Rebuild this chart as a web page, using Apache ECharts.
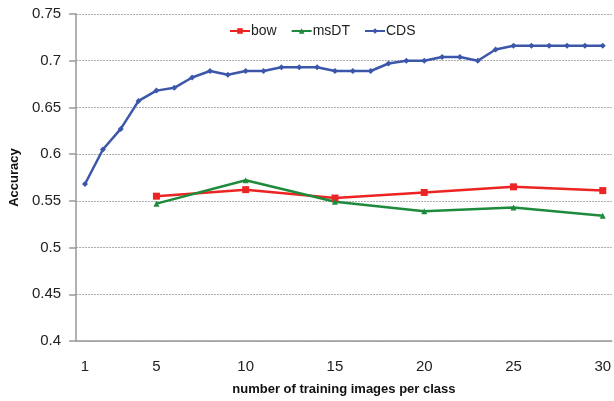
<!DOCTYPE html>
<html>
<head>
<meta charset="utf-8">
<script src="https://cdn.jsdelivr.net/npm/echarts@6/dist/echarts.min.js"></script>
<style>
html,body{margin:0;padding:0;background:#fff;}
#chart{width:614px;height:401px;}
</style>
</head>
<body>
<div id="chart"></div>
<script>
var categories = ['1','2','3','4','5','6','7','8','9','10','11','12','13','14','15','16','17','18','19','20','21','22','23','24','25','26','27','28','29','30'];
var bowValues = [null,null,null,null,0.555,null,null,null,null,0.562,null,null,null,null,0.553,null,null,null,null,0.559,null,null,null,null,0.565,null,null,null,null,0.561];
var msdtValues = [null,null,null,null,0.547,null,null,null,null,0.572,null,null,null,null,0.549,null,null,null,null,0.539,null,null,null,null,0.543,null,null,null,null,0.534];
var cdsValues = [0.568,0.605,0.627,0.657,0.668,0.671,0.682,0.689,0.685,0.689,0.689,0.693,0.693,0.693,0.689,0.689,0.689,0.697,0.700,0.700,0.704,0.704,0.700,0.712,0.716,0.716,0.716,0.716,0.716,0.716];
var yTicks = {min: 0.4, max: 0.75, step: 0.05};

var chart = echarts.init(document.getElementById('chart'), null, {renderer: 'canvas'});
var font = 'Liberation Sans, Arial, sans-serif';
chart.setOption({
  animation: false,
  backgroundColor: '#fff',
  textStyle: {fontFamily: font},
  legend: {
    top: 19,
    left: 224,
    itemGap: 14,
    itemWidth: 20,
    itemHeight: 7,
    textStyle: {fontSize: 14, color: '#222', fontFamily: font, padding: [0,0,0,-4]},
    data: ['bow','msDT','CDS']
  },
  grid: {left: 74, right: -2, top: 14, bottom: 58.5, containLabel: false},
  xAxis: {
    type: 'category',
    data: categories,
    boundaryGap: true,
    name: 'number of training images per class',
    nameLocation: 'middle',
    nameGap: 42,
    nameTextStyle: {fontSize: 13, color: '#111', fontWeight: 'bold', fontFamily: font},
    axisLine: {lineStyle: {color: '#999', width: 1.5}},
    axisTick: {show: false},
    axisLabel: {
      fontSize: 15, color: '#222', margin: 18,
      interval: function (i) { return i === 0 || (i + 1) % 5 === 0; }
    }
  },
  yAxis: {
    type: 'value',
    min: yTicks.min,
    max: yTicks.max,
    interval: yTicks.step,
    name: 'Accuracy',
    nameLocation: 'middle',
    nameGap: 55,
    nameRotate: 90,
    nameTextStyle: {fontSize: 13, color: '#111', fontWeight: 'bold', fontFamily: font},
    axisLine: {show: true, lineStyle: {color: '#999', width: 1.5}},
    axisTick: {show: true, length: 7, lineStyle: {color: '#999', width: 1.5}},
    axisLabel: {fontSize: 15, color: '#222', margin: 15},
    splitLine: {lineStyle: {color: '#aaa', type: [2, 1], width: 1}}
  },
  series: [
    {
      name: 'bow', type: 'line', data: bowValues, connectNulls: true,
      symbol: 'rect', symbolSize: 7,
      lineStyle: {color: '#ec2423', width: 2.5},
      itemStyle: {color: '#ec2423'}
    },
    {
      name: 'msDT', type: 'line', data: msdtValues, connectNulls: true,
      symbol: 'triangle', symbolSize: 6,
      lineStyle: {color: '#1e8b3c', width: 2.5},
      itemStyle: {color: '#1e8b3c'}
    },
    {
      name: 'CDS', type: 'line', data: cdsValues,
      symbol: 'diamond', symbolSize: 6,
      lineStyle: {color: '#3c56aa', width: 2.5},
      itemStyle: {color: '#3c56aa'}
    }
  ]
});
</script>
</body>
</html>
